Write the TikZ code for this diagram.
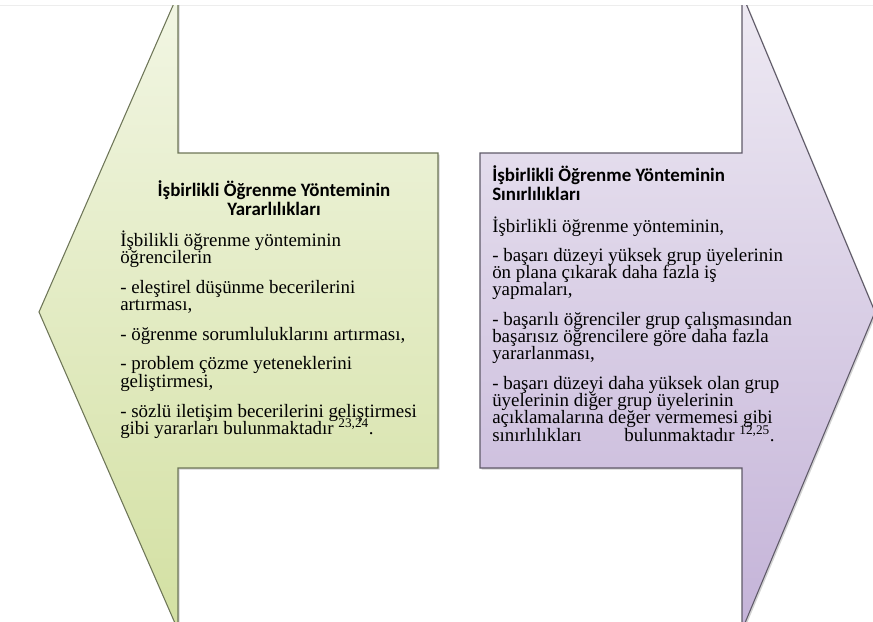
\documentclass[tikz,border=0pt]{standalone}
\usepackage{fontspec}
\setmainfont{Liberation Serif}
\newfontfamily\titlefont{Carlito}
\usetikzlibrary{shadows}
\definecolor{greentop}{HTML}{F2F6E4}
\definecolor{greenbot}{HTML}{D3E0A2}
\definecolor{greenline}{HTML}{6E7658}
\definecolor{purpletop}{HTML}{EEEAF3}
\definecolor{purplebot}{HTML}{C4B3D8}
\definecolor{purpleline}{HTML}{5F5A68}
\begin{document}
\begin{tikzpicture}[x=0.75pt,y=-0.75pt,
  arrowshape/.style={line width=0.8pt, drop shadow={opacity=0.35, shadow xshift=1.2pt, shadow yshift=-1.2pt}},
  greenarrow/.style={arrowshape, draw=greenline, top color=greentop, bottom color=greenbot},
  purplearrow/.style={arrowshape, draw=purpleline, top color=purpletop, bottom color=purplebot},
  titleline/.style={inner sep=0pt, font=\titlefont\bfseries\fontsize{14.2}{14.2}\selectfont},
  bodyline/.style={inner sep=0pt, anchor=base west, font=\fontsize{14.2}{14.2}\selectfont}
]
\useasboundingbox (0,0) rectangle (873,621);
\draw[black!7, line width=0.5pt] (0,5) -- (873,5);
\begin{scope}
\clip (0,5) rectangle (873,621);
\path[greenarrow] (438,153) -- (178,153) -- (178,-6) -- (39,312) -- (178,630) -- (178,468) -- (438,468) -- cycle;
\path[purplearrow] (480,153) -- (742,153) -- (742,-6) -- (875,312) -- (742,630) -- (742,468) -- (480,468) -- cycle;
\end{scope}
% left texts
\node[titleline, anchor=base] (lt1) at (274,196) {İşbirlikli Öğrenme Yönteminin};
\node[titleline, anchor=base] (lt2) at (274,215) {Yararlılıkları};
\foreach \n/\yy/\tx in {
  1/246/{İşbilikli öğrenme yönteminin},
  2/263.7/{öğrencilerin},
  3/293.2/{- eleştirel düşünme becerilerini},
  4/310.9/{artırması,},
  5/340.4/{- öğrenme sorumluluklarını artırması,},
  6/369.9/{- problem çözme yeteneklerini},
  7/387.6/{geliştirmesi,},
  8/417.1/{- sözlü iletişim becerilerini geliştirmesi},
  9/434.8/{gibi yararları bulunmaktadır \textsuperscript{23,24}.}}
  \node[bodyline] (lb\n) at (120,\yy) {\tx};
% right texts
\node[titleline, anchor=base west] (rt1) at (492,181) {İşbirlikli Öğrenme Yönteminin};
\node[titleline, anchor=base west] (rt2) at (492,200) {Sınırlılıkları};
\foreach \n/\yy/\tx in {
  1/232/{İşbirlikli öğrenme yönteminin,},
  2/261.3/{- başarı düzeyi yüksek grup üyelerinin},
  3/278.6/{ön plana çıkarak daha fazla iş},
  4/295.9/{yapmaları,},
  5/325.2/{- başarılı öğrenciler grup çalışmasından},
  6/342.5/{başarısız öğrencilere göre daha fazla},
  7/359.8/{yararlanması,},
  8/389.1/{- başarı düzeyi daha yüksek olan grup},
  9/406.4/{üyelerinin diğer grup üyelerinin},
  10/423.7/{açıklamalarına değer vermemesi gibi},
  11/441/{sınırlılıkları\hspace*{32pt}bulunmaktadır \textsuperscript{12,25}.}}
  \node[bodyline] (rb\n) at (492,\yy) {\tx};
\end{tikzpicture}
\end{document}
